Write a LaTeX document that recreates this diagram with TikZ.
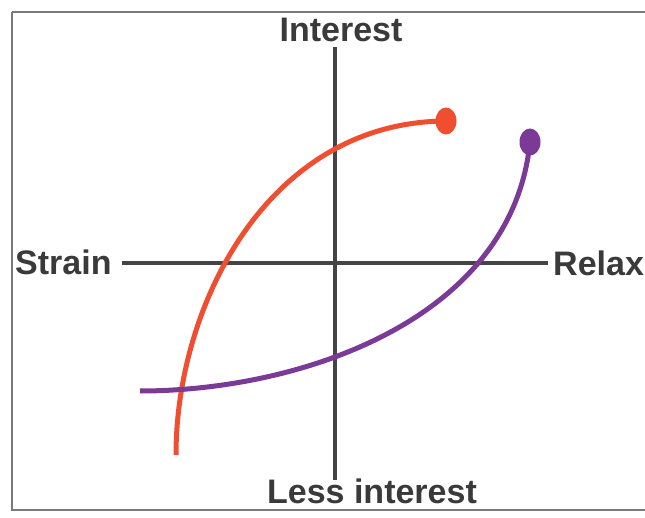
\documentclass[tikz,border=0pt]{standalone}
\usepackage{fontspec}
\setmainfont{Liberation Sans}
\usetikzlibrary{shapes.geometric}
\definecolor{axisgray}{HTML}{444444}
\definecolor{framegray}{HTML}{7A7A7A}
\definecolor{txtgray}{HTML}{3A3A3A}
\definecolor{curvered}{HTML}{F04E30}
\definecolor{curvepurple}{HTML}{7A3A96}
\tikzset{
  lbl/.style={font=\fontsize{34}{40}\selectfont\bfseries, text=txtgray, inner sep=0pt},
  axisline/.style={draw=axisgray, line width=4pt},
  curveline/.style={line width=5pt},
  enddot/.style={ellipse, minimum width=21pt, minimum height=27pt, inner sep=0pt},
}
\begin{document}
\begin{tikzpicture}[x=1pt,y=-1pt]
\useasboundingbox (0,0) rectangle (645,518);
\fill[white] (0,0) rectangle (645,518);
% frame
\draw[framegray, line width=2pt] (12,12) -- (12,510) -- (660,510);
\draw[framegray, line width=2pt] (12,12) -- (660,12);
% labels
\node[lbl, anchor=base] (interest) at (341,42) {Interest};
\node[lbl, anchor=base] (less) at (372,503) {Less interest};
\node[lbl, anchor=base west] (strain) at (15,275) {Strain};
\node[lbl, anchor=base west] (relax) at (553,276) {Relax};
% axes
\coordinate (vtop) at (335,47);
\coordinate (vbot) at (335,480);
\coordinate (hleft) at (122,263);
\coordinate (hright) at (548,263);
\draw[axisline] (vtop) -- (vbot);
\draw[axisline] (hleft) -- (hright);
% red curve
\coordinate (rstart) at (176,455);
\node[enddot, fill=curvered] (rdot) at (446,121) {};
\draw[curveline, curvered] (rstart) .. controls (176,305) and (268,122) .. (rdot.center);
% purple curve
\coordinate (pstart) at (140,391);
\node[enddot, fill=curvepurple] (pdot) at (530,142) {};
\draw[curveline, curvepurple] (pstart) .. controls (300,391) and (512,320) .. (pdot.center);
\end{tikzpicture}
\end{document}
